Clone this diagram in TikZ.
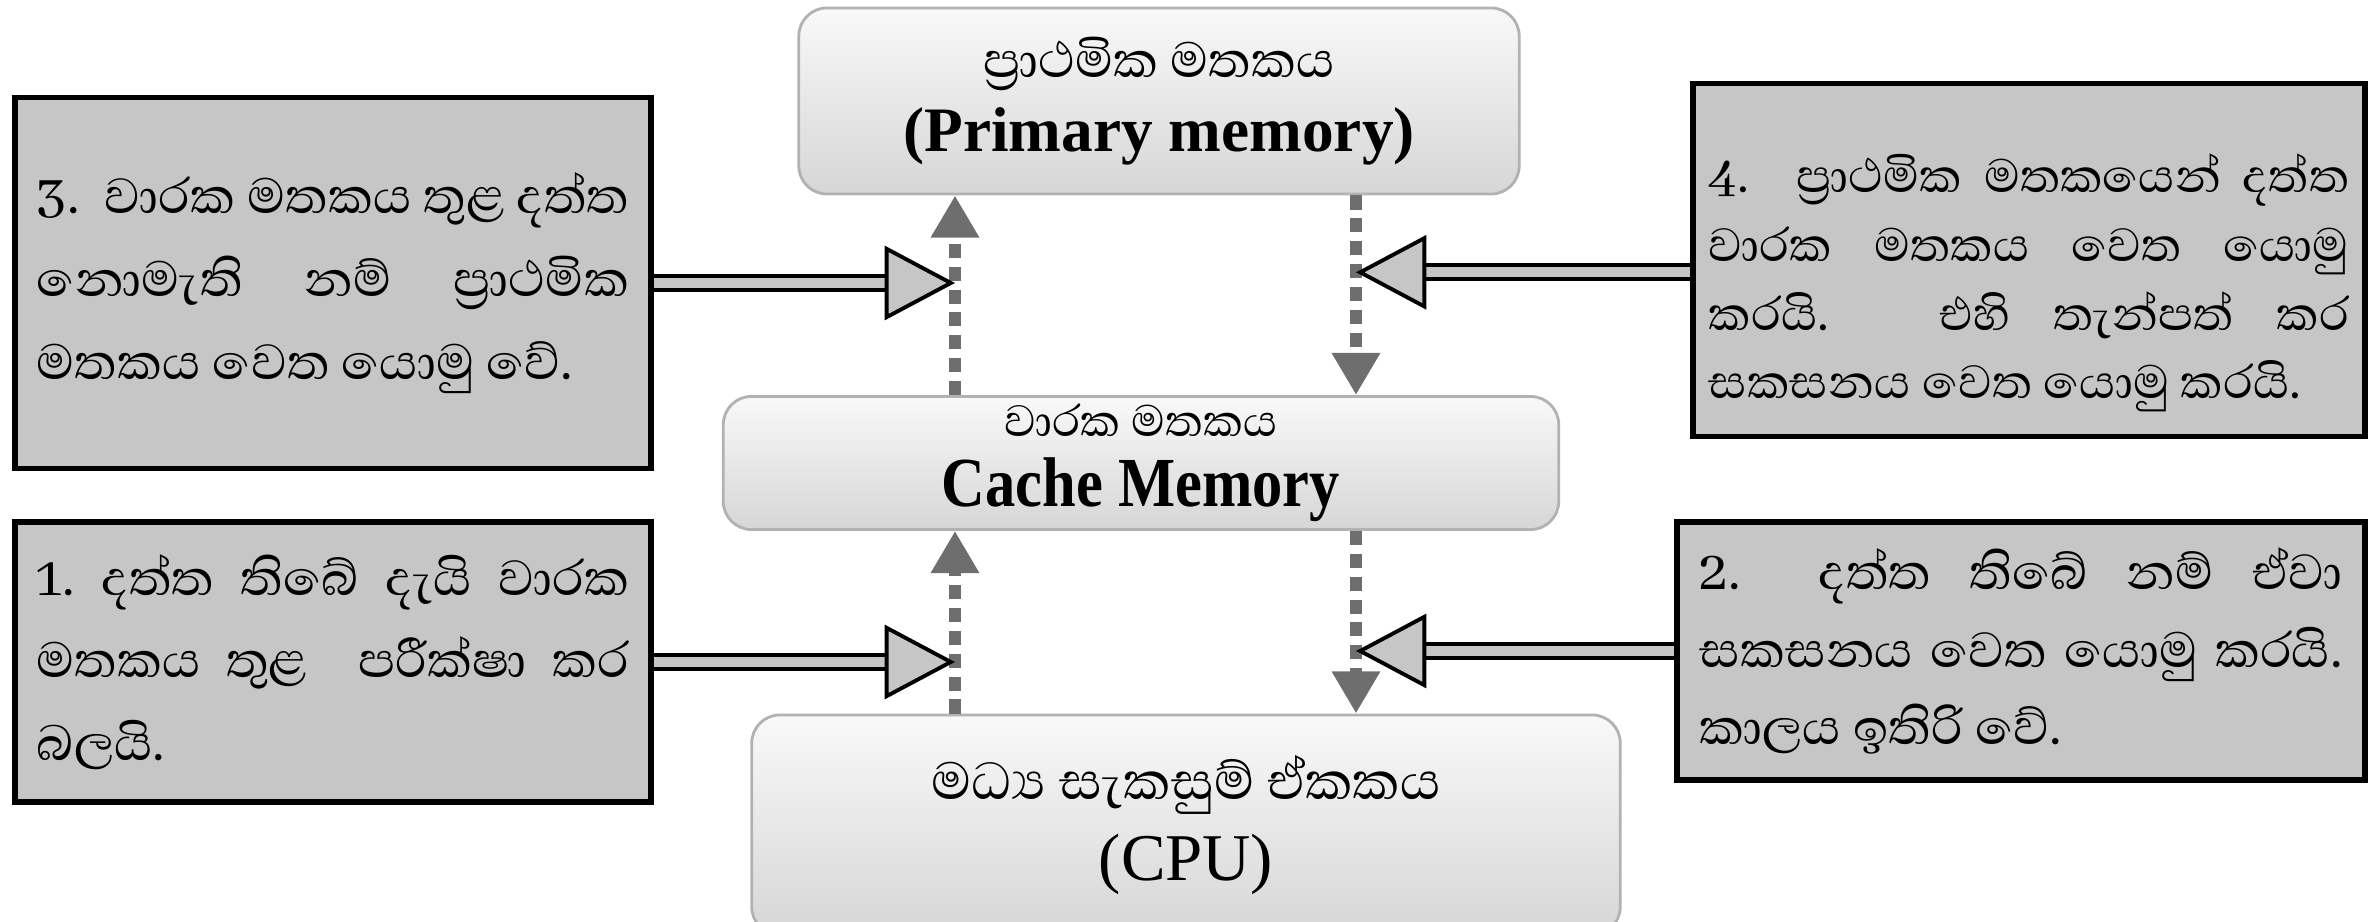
\documentclass[tikz,border=0pt]{standalone}
\usepackage{fontspec}
\setmainfont{Liberation Serif}
\newfontfamily\sinhala[Script=Sinhala]{Abhaya Libre}
\newfontfamily\narrowserif[FakeStretch=0.86]{Liberation Serif}
\usetikzlibrary{arrows.meta}

\definecolor{notegray}{HTML}{C6C6C6}
\definecolor{pathgray}{HTML}{6E6E6E}

\tikzset{
  memory/.style={draw=gray!60, line width=0.8pt, rounded corners=8pt,
    top color=gray!5, bottom color=gray!32, align=center, inner sep=0pt},
  note/.style={draw=black, line width=1.6pt, fill=notegray, align=justify,
    inner xsep=0.22cm, inner ysep=0pt, font=\sinhala\fontsize{18}{23.5}\selectfont},
  datapath/.style={draw=pathgray, line width=3.6pt, dash pattern=on 4pt off 2.5pt,
    -{Triangle[length=12pt,width=13pt]}},
  hint/.style={draw=notegray, line width=2.8pt,
    -{Triangle[length=20pt,width=21pt,line width=1.1pt,color=black,fill=notegray]},
    preaction={draw=black, line width=5.2pt, -, shorten >=19pt}}
}

\begin{document}
\begin{tikzpicture}[x=0.01cm, y=-0.01cm]
\useasboundingbox (0,0) rectangle (2374,922);

% Variablen
\def\upX{955}
\def\downX{1356}

% Speicher
\draw (1159,101) node[memory, minimum width=7.2cm, minimum height=1.86cm,
  font=\fontsize{18}{21}\selectfont] (PrimaryMemory)
  {{\sinhala ප්‍රාථමික මතකය}\\{\bfseries (Primary memory)}};
\draw (1141,463) node[memory, minimum width=8.35cm, minimum height=1.33cm,
  font=\fontsize{16}{20}\selectfont] (CacheMemory)
  {{\sinhala වාරක මතකය}\\{\narrowserif\bfseries\fontsize{20}{20}\selectfont Cache Memory}};
\draw (1186,825) node[memory, minimum width=8.68cm, minimum height=2.2cm,
  font=\fontsize{19}{23}\selectfont] (CPU)
  {{\sinhala මධ්‍ය සැකසුම් ඒකකය}\\(CPU)};

% Hinweise
\draw (333,283) node[note, text width=5.92cm, minimum height=3.71cm] (StepThree)
  {3.\ \ වාරක මතකය තුළ දත්ත\linebreak නොමැති නම් ප්‍රාථමික\linebreak මතකය වෙත යොමු වේ.};
\draw (333,662) node[note, text width=5.92cm, minimum height=2.80cm] (StepOne)
  {1.\ දත්ත තිබේ දැයි වාරක\linebreak මතකය තුළ\ \ පරීක්ෂා කර\linebreak බලයි.};
\draw (2029,260) node[note, text width=6.4cm, inner xsep=0.16cm, minimum height=3.53cm,
  font=\sinhala\fontsize{17}{19.5}\selectfont] (StepFour)
  {\rule{0pt}{0.85cm}4. ප්‍රාථමික මතකයෙන් දත්ත\linebreak වාරක මතකය වෙත යොමු\linebreak කරයි. එහි තැන්පත් කර\linebreak සකසනය වෙත යොමු කරයි.};
\draw (2021,651) node[note, text width=6.43cm, minimum height=2.58cm,
  font=\sinhala\fontsize{18}{22}\selectfont] (StepTwo)
  {2.\ \ දත්ත තිබේ නම් ඒවා\linebreak සකසනය වෙත යොමු කරයි.\linebreak කාලය ඉතිරි වේ.};

\coordinate (UpLine) at (\upX,0);
\coordinate (DownLine) at (\downX,0);

% Striche
\draw[datapath] (CPU.north -| UpLine) -- (CacheMemory.south -| UpLine);
\draw[datapath] (CacheMemory.north -| UpLine) -- (PrimaryMemory.south -| UpLine);
\draw[datapath] (PrimaryMemory.south -| DownLine) -- (CacheMemory.north -| DownLine);
\draw[datapath] (CacheMemory.south -| DownLine) -- (CPU.north -| DownLine);

\draw[hint] (StepThree.east) -- (StepThree.east -| UpLine);
\draw[hint] (StepOne.east) -- (StepOne.east -| UpLine);
\draw[hint] ([yshift=-3.5pt]StepFour.west) -- ([yshift=-3.5pt]StepFour.west -| DownLine);
\draw[hint] (StepTwo.west) -- (StepTwo.west -| DownLine);

\end{tikzpicture}
\end{document}
